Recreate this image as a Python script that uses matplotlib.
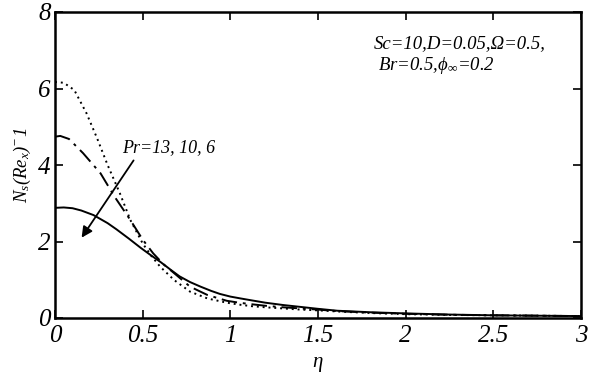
import matplotlib
matplotlib.use("Agg")
import matplotlib.pyplot as plt

plt.rcParams['mathtext.fontset'] = 'custom'
plt.rcParams['mathtext.rm'] = 'Liberation Serif:italic'
plt.rcParams['mathtext.it'] = 'Liberation Serif:italic'
plt.rcParams['font.family'] = ['Liberation Serif']

# Pr = 6 (solid)
eta_a = [0.0, 0.05, 0.1, 0.15, 0.22, 0.3, 0.35, 0.42, 0.49, 0.55, 0.6, 0.66, 0.71, 0.77, 0.83, 0.89, 0.94, 1.0, 1.06, 1.11, 1.2, 1.3, 1.4, 1.5, 1.61, 1.8, 2.0, 2.25, 2.5, 2.75, 3.0]
ns_a = [2.88, 2.89, 2.87, 2.81, 2.69, 2.48, 2.32, 2.08, 1.83, 1.63, 1.47, 1.26, 1.09, 0.94, 0.82, 0.71, 0.63, 0.56, 0.51, 0.47, 0.40, 0.34, 0.29, 0.24, 0.19, 0.15, 0.12, 0.09, 0.07, 0.06, 0.05]
# Pr = 10 (dash-dot)
eta_b = [0.0, 0.03, 0.08, 0.16, 0.26, 0.34, 0.43, 0.5, 0.56, 0.62, 0.68, 0.77, 0.87, 0.98, 1.05, 1.12, 1.2, 1.3, 1.4, 1.5, 1.61, 1.8, 2.0, 2.25, 2.5, 2.75, 3.0]
ns_b = [4.74, 4.76, 4.68, 4.31, 3.78, 3.17, 2.56, 2.05, 1.69, 1.40, 1.17, 0.82, 0.60, 0.45, 0.40, 0.36, 0.32, 0.28, 0.25, 0.22, 0.18, 0.14, 0.11, 0.085, 0.07, 0.06, 0.05]
# Pr = 13 (dotted)
eta_c = [0.0, 0.05, 0.11, 0.18, 0.24, 0.3, 0.37, 0.43, 0.5, 0.55, 0.6, 0.68, 0.77, 0.87, 0.98, 1.05, 1.12, 1.2, 1.3, 1.4, 1.5, 1.61, 1.8, 2.0, 2.25, 2.5, 2.75, 3.0]
ns_c = [6.17, 6.15, 5.96, 5.35, 4.70, 4.00, 3.26, 2.56, 1.95, 1.62, 1.34, 0.99, 0.69, 0.51, 0.40, 0.35, 0.31, 0.28, 0.25, 0.22, 0.20, 0.17, 0.13, 0.10, 0.08, 0.07, 0.06, 0.05]

xticks = [0, 0.5, 1, 1.5, 2, 2.5, 3]
xticklabels = ['0', '0.5', '1', '1.5', '2', '2.5', '3']
yticks = [0, 2, 4, 6, 8]
yticklabels = ['0', '2', '4', '6', '8']

fig = plt.figure(figsize=(5.91, 3.75), dpi=100)
ax = fig.add_axes([55/591, 1 - 318/375, 526/591, 306/375])

ax.plot(eta_a, ns_a, color='black', linestyle='-', linewidth=1.4)
ax.plot(eta_b, ns_b, color='black', linestyle=(0, (8, 3, 1.5, 3)), linewidth=1.4)
ax.plot(eta_c, ns_c, color='black', linestyle=(0, (1, 2)), linewidth=1.4)

ax.set_xlim(0, 3)
ax.set_ylim(0, 8)
ax.set_xticks(xticks)
ax.set_xticklabels(xticklabels, fontstyle='italic', fontsize=18)
ax.set_yticks(yticks)
ax.set_yticklabels(yticklabels, fontstyle='italic', fontsize=18)
ax.tick_params(direction='in', length=6, width=1.2, top=True, right=True)
ax.tick_params(axis='x', pad=5)
ax.tick_params(axis='y', pad=3)
for s in ax.spines.values():
    s.set_linewidth(1.8)

ax.set_xlabel(r'$\eta$', fontsize=15, labelpad=6)
ax.set_ylabel(r'$N_s(Re_x)^{-}1$', fontsize=13.5, labelpad=4)

ax.annotate('', xy=(0.143, 2.04), xytext=(0.457, 4.18),
            arrowprops=dict(arrowstyle='-|>', color='black', lw=1.3, mutation_scale=16))
ax.text(0.385, 4.46, 'Pr=13, 10, 6', fontsize=13, fontstyle='italic', va='center', ha='left')

ax.text(1.82, 7.18, 'Sc=10,D=0.05,\u03a9=0.5,', fontsize=13.5, fontstyle='italic', va='center', ha='left')
ax.text(1.84, 6.6, 'Br=0.5,' + r'$\phi_{\infty}$' + '=0.2', fontsize=13.5, fontstyle='italic', va='center', ha='left')

fig.savefig('out.png', dpi=100)
